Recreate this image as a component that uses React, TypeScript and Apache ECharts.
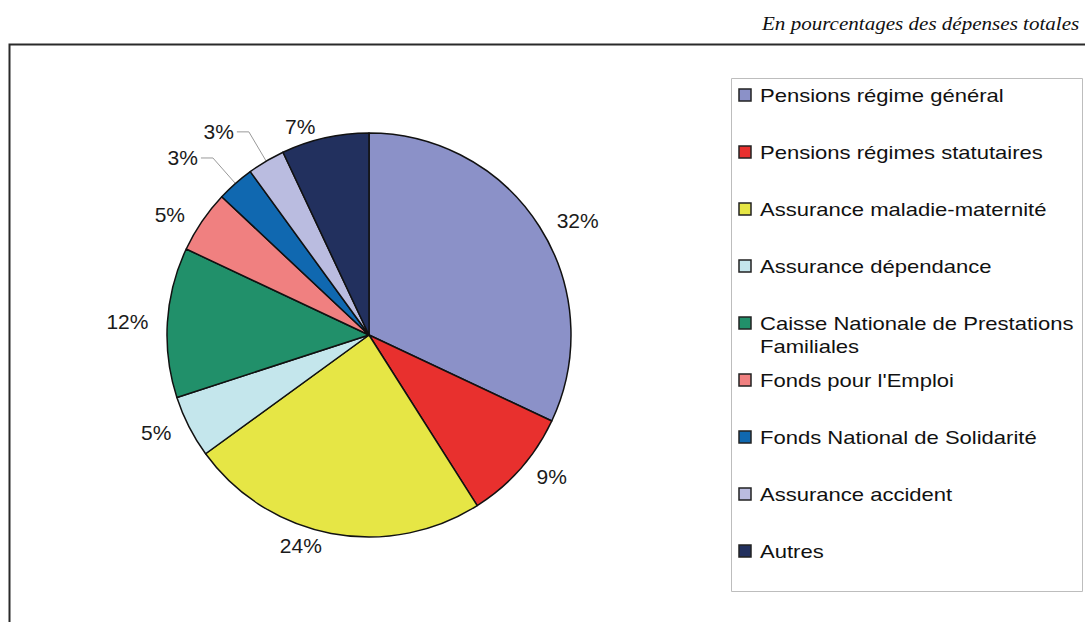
import React, { useEffect, useRef } from "react";
import * as echarts from "echarts";

const categories = [
  "Pensions régime général",
  "Pensions régimes statutaires",
  "Assurance maladie-maternité",
  "Assurance dépendance",
  "Caisse Nationale de Prestations\nFamiliales",
  "Fonds pour l'Emploi",
  "Fonds National de Solidarité",
  "Assurance accident",
  "Autres",
];
const values = [32, 9, 24, 5, 12, 5, 3, 3, 7];
const colors = [
  "#8B91C8",
  "#E8302E",
  "#E6E645",
  "#C4E6EC",
  "#21906A",
  "#F08080",
  "#1068B0",
  "#BABCE0",
  "#22305E",
];
const subtitle = "En pourcentages des dépenses totales";

export default function App() {
  const ref = useRef<HTMLDivElement>(null);
  useEffect(() => {
    if (!ref.current) return;
    const chart = echarts.init(ref.current, undefined, { renderer: "svg" });
    const legendX = 739;
    const legendY0 = 95;
    const legendStep = 57;
    const legendGraphics: any[] = [];
    categories.forEach((c, i) => {
      const y = legendY0 + i * legendStep;
      legendGraphics.push({
        type: "rect",
        shape: { x: legendX, y: y - 6, width: 12, height: 12 },
        style: { fill: colors[i], stroke: "#222", lineWidth: 1.5 },
      });
      legendGraphics.push({
        type: "text",
        x: legendX + 21,
        y: y - 11.5,
        scaleX: 1.16,
        style: {
          text: c,
          fill: "#111",
          font: '19px "Liberation Sans", Arial, sans-serif',
          lineHeight: 23,
          textVerticalAlign: "top",
        },
      });
    });
    const smallLine = [false, false, false, false, false, false, true, true, false];
    chart.setOption({
      animation: false,
      backgroundColor: "#fff",
      graphic: [
        {
          type: "text",
          x: 762,
          y: 15,
          scaleX: 1.17,
          style: {
            text: subtitle,
            fill: "#111",
            font: 'italic 18px "Liberation Serif", "Times New Roman", serif',
          },
        },
        {
          type: "polyline",
          shape: { points: [[9.5, 622], [9.5, 44.5], [1090, 44.5]] },
          style: { stroke: "#2a2a2a", lineWidth: 2, fill: "none" },
        },
        {
          type: "rect",
          shape: { x: 731.5, y: 78.5, width: 351, height: 513 },
          style: { fill: "#fff", stroke: "#bdbdbd", lineWidth: 1 },
        },
        ...legendGraphics,
      ],
      series: [
        {
          type: "pie",
          center: [369, 335],
          radius: 202,
          startAngle: 90,
          clockwise: true,
          avoidLabelOverlap: false,
          itemStyle: { borderColor: "#111", borderWidth: 1.5 },
          label: {
            show: true,
            position: "outside",
            formatter: "{c}%",
            color: "#1a1a1a",
            fontSize: 21,
            fontFamily: '"Liberation Sans", Arial, sans-serif',
            distanceToLabelLine: 3,
          },
          labelLine: { show: false, length: 12, length2: 4 },
          data: values.map((v, i) => ({
            value: v,
            name: categories[i],
            itemStyle: { color: colors[i] },
            labelLine: smallLine[i]
              ? { show: true, length: 34, length2: 12, lineStyle: { color: "#999", width: 1 } }
              : undefined,
          })),
        },
      ],
    });
    return () => chart.dispose();
  }, []);
  return (
    <div
      ref={ref}
      style={{ position: "fixed", left: 0, top: 0, width: 1085, height: 622 }}
    />
  );
}
